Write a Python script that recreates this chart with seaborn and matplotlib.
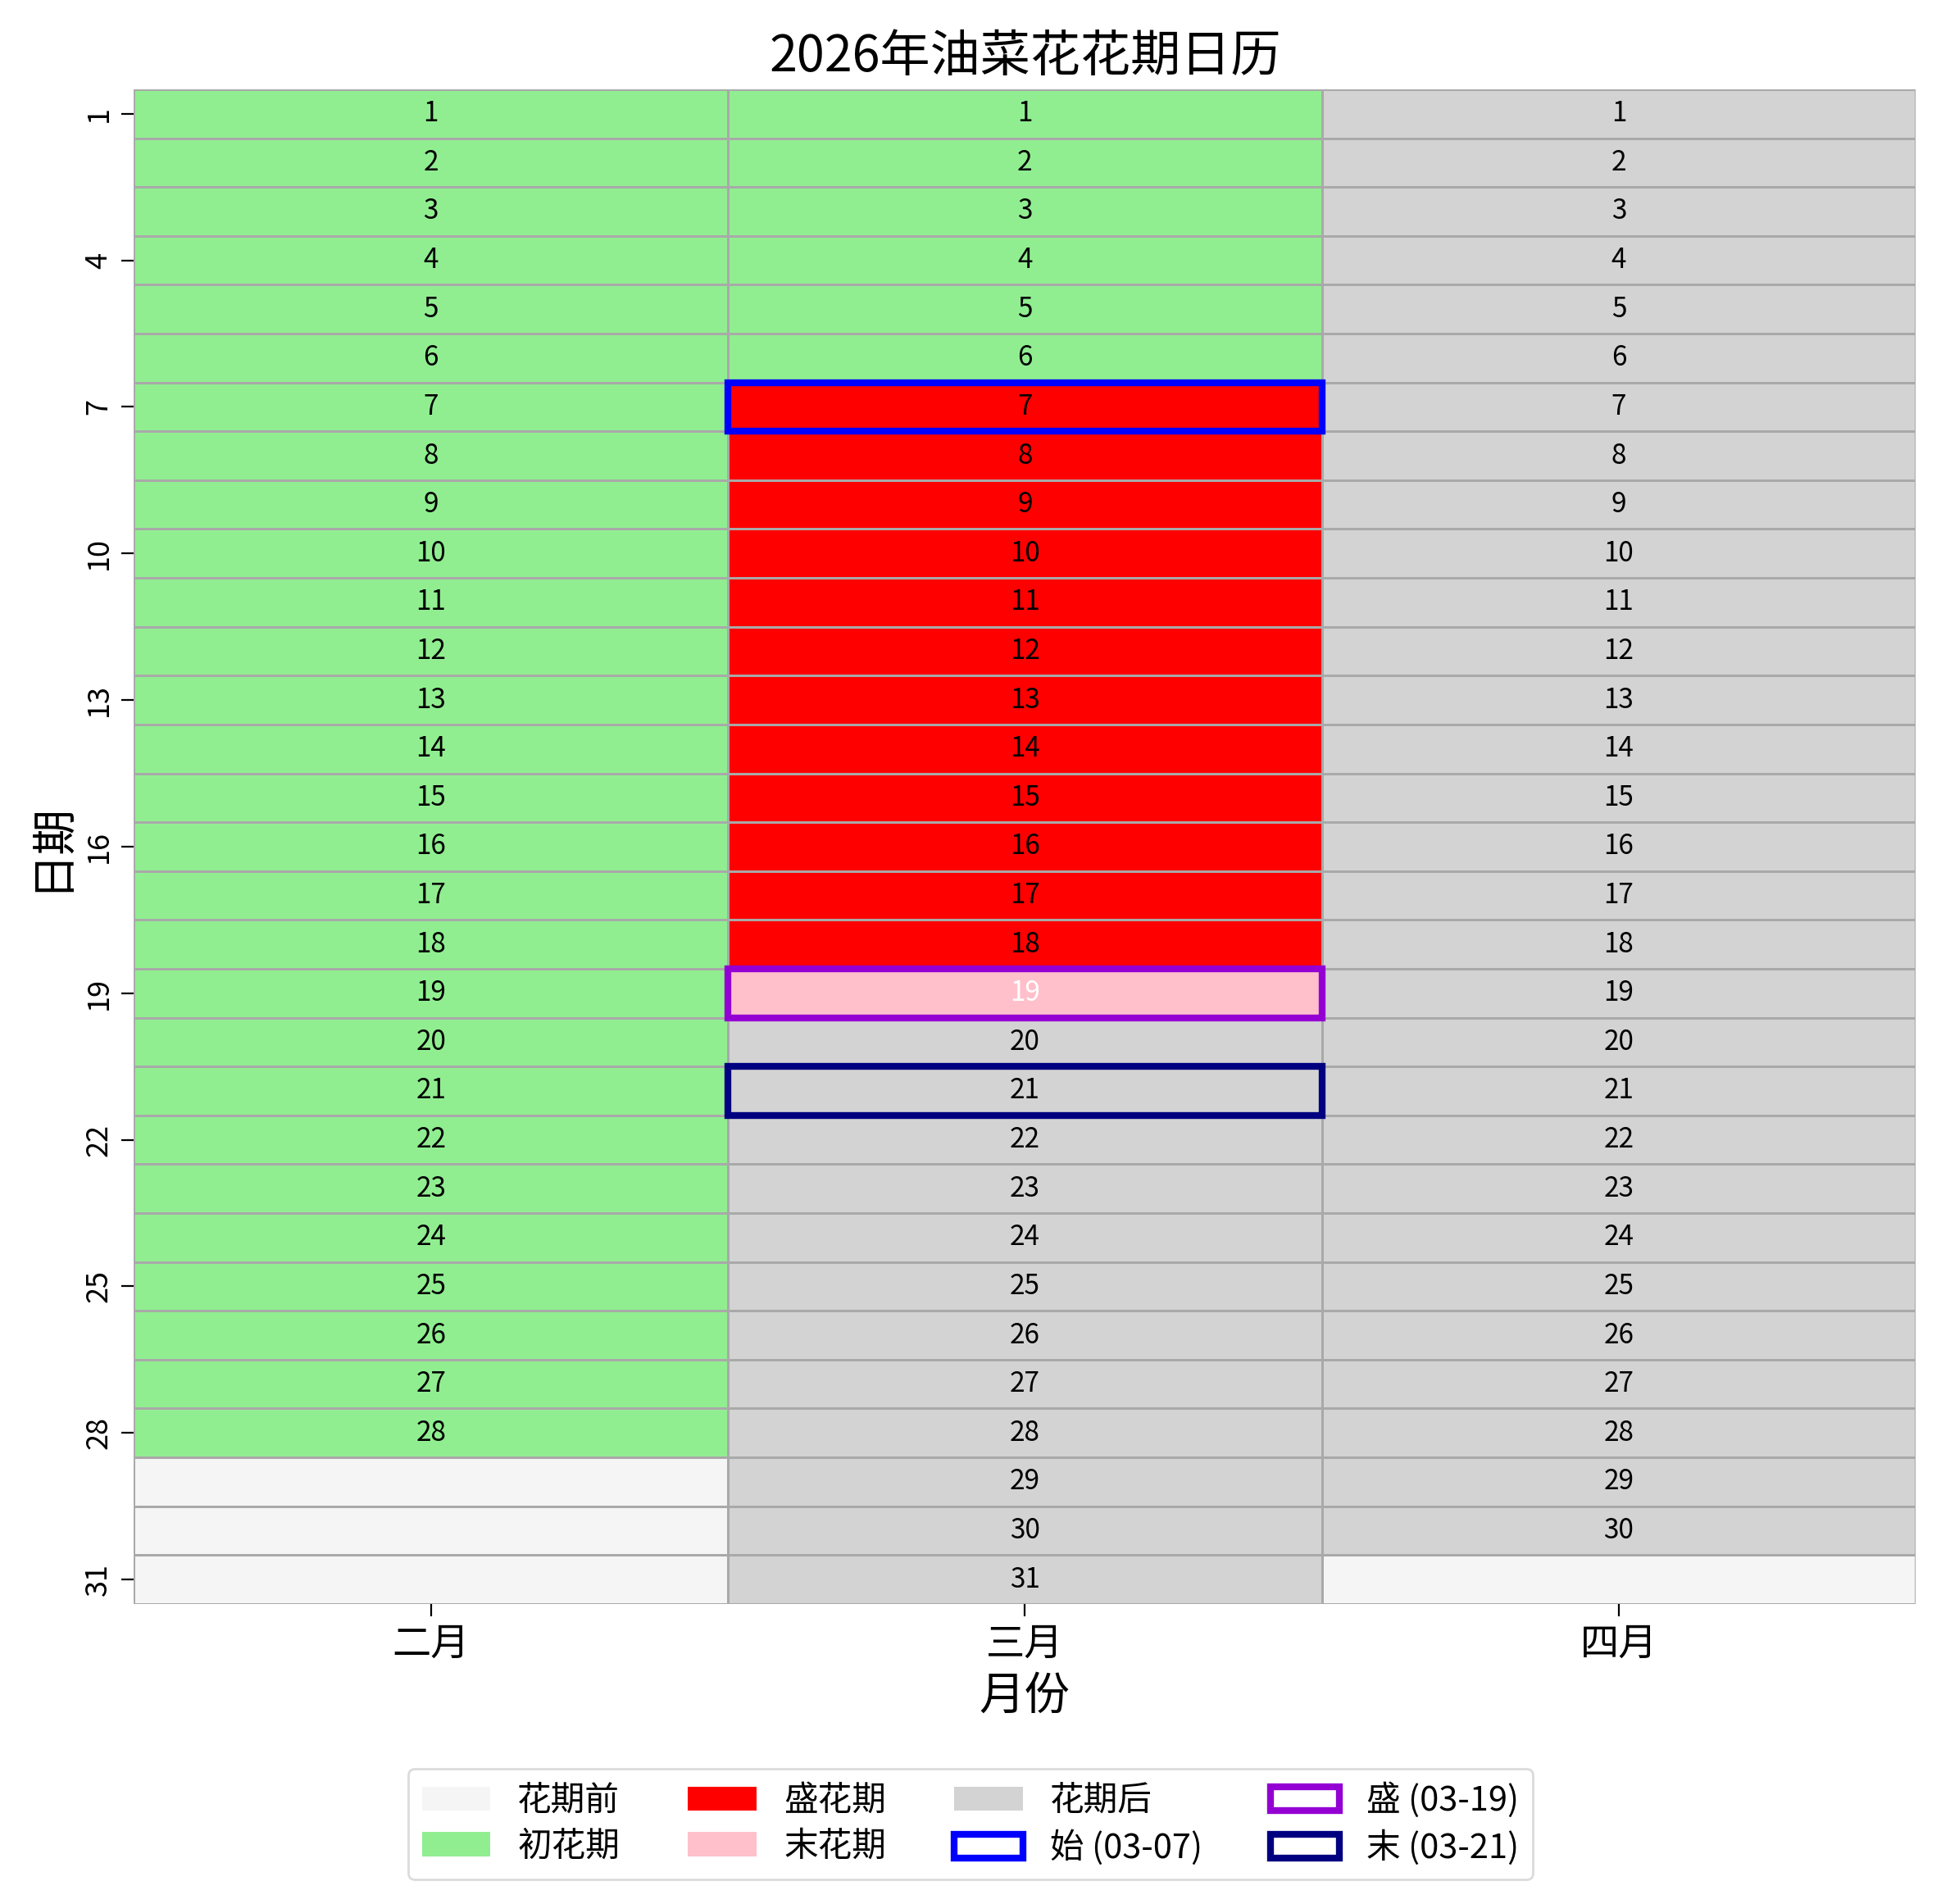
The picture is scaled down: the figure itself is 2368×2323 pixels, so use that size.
import numpy as np
import pandas as pd
import seaborn as sb
import matplotlib.pyplot as plt
from matplotlib.colors import ListedColormap
from matplotlib.patches import Patch, Rectangle

plt.rcParams['font.family'] = ['Noto Sans CJK SC', 'DejaVu Sans']
plt.rcParams['axes.unicode_minus'] = False

# datos
meses = ['二月', '三月', '四月']
dias_mes = [28, 31, 30]
etapas = ['花期前', '初花期', '盛花期', '末花期', '花期后']
colores = ['whitesmoke', 'lightgreen', 'red', 'pink', 'lightgray']

# (mes, etapa, dia inicial, dia final)
tramos = [
    ('二月', '初花期', 1, 28),
    ('三月', '初花期', 1, 6),
    ('三月', '盛花期', 7, 18),
    ('三月', '末花期', 19, 19),
    ('三月', '花期后', 20, 31),
    ('四月', '花期后', 1, 30),
]

# marcas: etiqueta, mes, dia, color
marcas_lbl = ['始 (03-07)', '盛 (03-19)', '末 (03-21)']
marcas_mes = ['三月', '三月', '三月']
marcas_dia = [7, 19, 21]
marcas_col = ['blue', 'darkviolet', 'navy']

dias = list(range(1, 32))
valores = pd.DataFrame(0, index=dias, columns=meses)
anotar = pd.DataFrame('', index=dias, columns=meses)
for mes, n in zip(meses, dias_mes):
    for d in range(1, n + 1):
        anotar.loc[d, mes] = str(d)
for mes, etapa, d0, d1 in tramos:
    valores.loc[d0:d1, mes] = etapas.index(etapa)

fig = plt.figure(figsize=(11.84, 11.615), dpi=200)
ax = fig.add_axes([0.069, 0.1576, 0.918, 0.7955])
sb.heatmap(valores, ax=ax, cmap=ListedColormap(colores), vmin=-0.5, vmax=4.5,
           annot=anotar.values, fmt='', cbar=False, linewidths=1, linecolor='darkgray',
           annot_kws={'fontsize': 12, 'color': 'black'}, yticklabels=3)

# texto blanco en el dia 19 de marzo (como en el original)
for t in ax.texts:
    x, y = t.get_position()
    if t.get_text() == '19' and int(x) == 1:
        t.set_color('white')

for lbl, mes, d, c in zip(marcas_lbl, marcas_mes, marcas_dia, marcas_col):
    ax.add_patch(Rectangle((meses.index(mes), d - 1), 1, 1, fill=False,
                           edgecolor=c, lw=3, clip_on=False, zorder=5))

ax.set_title('2026年油菜花花期日历', fontsize=22, pad=8)
ax.set_xlabel('月份', fontsize=20)
ax.set_ylabel('日期', fontsize=20)
ax.set_xticklabels(meses, fontsize=17, rotation=0)
plt.setp(ax.get_yticklabels(), rotation=90, fontsize=13)
ax.tick_params(axis='both', length=5.5)

handles = [Patch(facecolor=c, label=e) for e, c in zip(etapas, colores)]
handles += [Patch(facecolor='white', edgecolor=c, lw=3, label=l)
            for l, c in zip(marcas_lbl, marcas_col)]
fig.legend(handles=handles, loc='lower center', bbox_to_anchor=(0.5, 0.004),
           ncol=4, fontsize=15, frameon=True, edgecolor='lightgray',
           labelspacing=0.35)

plt.savefig('out.png', dpi=200)
